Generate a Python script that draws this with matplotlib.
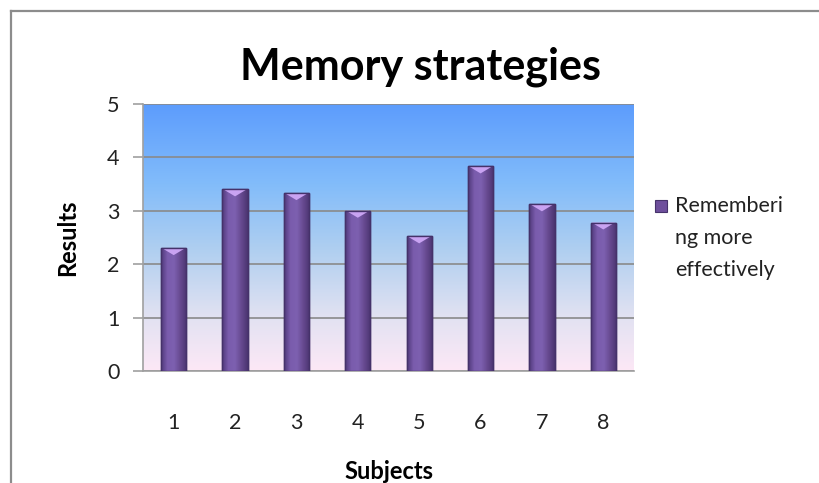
import matplotlib.pyplot as plt
import numpy as np
from matplotlib.colors import LinearSegmentedColormap
from matplotlib.patches import Rectangle, Polygon
from matplotlib.lines import Line2D

subjects = ['1', '2', '3', '4', '5', '6', '7', '8']
results = [2.3, 3.4, 3.33, 3.0, 2.52, 3.83, 3.12, 2.78]
series_name = 'Rememberi\nng more\neffectively'

plt.rcParams['font.family'] = ['Lato', 'DejaVu Sans']

fig = plt.figure(figsize=(8.19, 4.83), dpi=100)
ax = fig.add_axes([0.1746, 0.2319, 0.5995, 0.5528])

# outer chart frame: only top and left edges are visible in the screenshot
fx, fy = 11 / 819, 1 - 11 / 483
fig.lines.append(Line2D([fx, 1.02], [fy, fy], transform=fig.transFigure,
                        color='#8c8c8c', linewidth=1.6))
fig.lines.append(Line2D([fx, fx], [-0.02, fy], transform=fig.transFigure,
                        color='#8c8c8c', linewidth=1.6))

# plot-area gradient background
bg = LinearSegmentedColormap.from_list('bg', [(0.0, '#fde8f6'), (0.2, '#e2e2f2'),
                                              (0.45, '#b0cff0'), (0.7, '#82bcfa'),
                                              (1.0, '#5c9cfd')])
grad = np.linspace(0, 1, 256).reshape(-1, 1)
ax.imshow(grad, cmap=bg, origin='lower', aspect='auto',
          extent=[0, 1, 0, 1], transform=ax.transAxes, zorder=0)

x = np.arange(len(subjects))
bars = ax.bar(x, results, width=0.41, color='#6e4f9c', edgecolor='#46336b',
              linewidth=1.0, zorder=3)

# horizontal shading on each bar + light bevel cap
shade = LinearSegmentedColormap.from_list('shade', ['#4f3878', '#7a5cad', '#7d60b0',
                                                    '#66498f', '#4a3470'])
hgrad = np.linspace(0, 1, 256).reshape(1, -1)
for b in bars:
    x0, w, h = b.get_x(), b.get_width(), b.get_height()
    im = ax.imshow(hgrad, cmap=shade, aspect='auto',
                   extent=[x0, x0 + w, 0, h], zorder=3.5)
    im.set_clip_path(b)
    cap = 0.13
    ax.add_patch(Polygon([[x0 + 0.04 * w, h], [x0 + 0.96 * w, h],
                          [x0 + 0.5 * w, h - cap]], closed=True,
                         facecolor='#c9a3f2', edgecolor='none', zorder=4))
    ax.add_patch(Rectangle((x0, 0), w, h, fill=False, edgecolor='#45326a',
                           linewidth=1.0, zorder=5))

ax.set_xlim(-0.5, len(subjects) - 0.5)
ax.set_ylim(0, 5)
ax.set_yticks(range(0, 6))
ax.set_xticks(x)
ax.set_xticklabels(subjects)
ax.grid(axis='y', color='#8a8a8a', linewidth=1.2, zorder=1)
ax.set_axisbelow(True)

for s in ['top', 'right']:
    ax.spines[s].set_visible(False)
ax.spines['left'].set_color('#a0a0a0')
ax.spines['bottom'].set_color('#a0a0a0')
ax.spines['left'].set_linewidth(1.2)
ax.spines['bottom'].set_linewidth(1.2)
ax.tick_params(axis='y', length=7, width=1.2, color='#a0a0a0', labelsize=15.5,
               pad=10, labelcolor='#222222')
ax.tick_params(axis='x', length=0, labelsize=15.5, pad=30, labelcolor='#222222')

ax.set_ylabel('Results', fontsize=17, fontweight='bold', labelpad=20)
ax.set_xlabel('Subjects', fontsize=17, fontweight='bold', labelpad=20)
fig.text(0.513, 0.862, 'Memory strategies', fontsize=31, fontweight='bold',
         ha='center', va='center')

# legend
fig.patches.append(Rectangle((655 / 819, 1 - 212 / 483), 12 / 819, 12 / 483,
                             transform=fig.transFigure, facecolor='#6e4f9c',
                             edgecolor='#46336b', linewidth=0.8))
fig.text(675 / 819, 1 - 196 / 483, series_name, fontsize=15.5, va='top',
         ha='left', color='#222222', linespacing=1.75)

fig.savefig('out.png', dpi=100)
